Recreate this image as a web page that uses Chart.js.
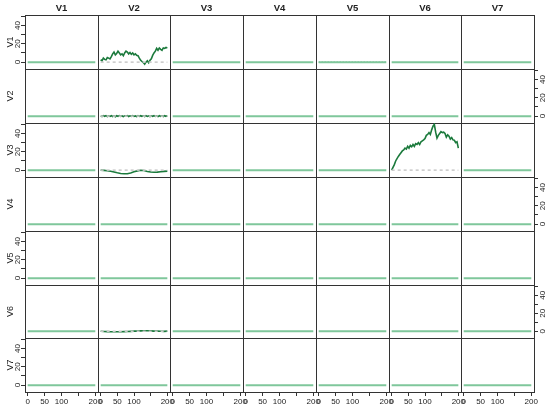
<!DOCTYPE html>
<html>
<head>
<meta charset="utf-8">
<script src="https://cdn.jsdelivr.net/npm/chart.js@4"></script>
<style>
  html, body { margin: 0; padding: 0; background: #fff; }
  #wrap { position: relative; width: 550px; height: 407px; overflow: hidden; }
  #wrap canvas { position: absolute; }
</style>
</head>
<body>
<div id="wrap"></div>
<script>
// ---- data ----
const names = ['V1', 'V2', 'V3', 'V4', 'V5', 'V6', 'V7'];
const xTicks = [0, 50, 100, 150, 200];
const xLabels = ['0', '50', '100', '', '200'];
const yTicks = [0, 10, 20, 30, 40, 50];
const yLabels = ['0', '', '20', '', '40', ''];

// flat responses (most panels)
const flatLags = [0, 200];
const flatVals = [0, 0];

// step-4 lags for the noisy series
const lags4 = [0,4,8,12,16,20,24,28,32,36,40,44,48,52,56,60,64,68,72,76,80,84,88,92,96,100,
  104,108,112,116,120,124,128,132,136,140,144,148,152,156,160,164,168,172,176,180,184,188,192,196,200];
// step-10 lags for the smoother ones
const lags10 = [0,10,20,30,40,50,60,70,80,90,100,110,120,130,140,150,160,170,180,190,200];

// V1 response to V2
const v1v2 = [2.6,1.5,4.4,3,2.5,5,4.4,3.5,6,9,11,8,9.5,12,10,8,9,7,10,12,11,9,10.5,8.5,10,8,
  9,7.5,7,4.4,2,0.7,-0.5,-2.2,0,1.5,-0.7,2,3.7,7.4,10,12,15,13,15.5,14,13,15.5,15,16,15.5];
// V2 response to V2
const v2v2 = [0.3,-0.4,0.5,-0.2,0.6,-0.5,0.2,-0.3,0.5,-0.4,0.3,-0.6,0.4,-0.2,0.5,-0.3,0.2,-0.5,0.4,-0.1,0.5,-0.4,0.3,-0.2,0.6,-0.3,
  0.2,-0.5,0.4,-0.3,0.5,-0.2,0.3,-0.4,0.5,-0.3,0.2,-0.4,0.4,-0.2,0.5,-0.3,0.3,-0.5,0.4,-0.2,0.3,-0.4,0.5,-0.2,0.3];
// V3 response to V2
const v3v2 = [0,-0.3,-0.7,-1.3,-2,-2.9,-3.6,-4,-3.9,-3.1,-1.8,-0.8,-0.1,-0.4,-1.4,-2.1,-2.3,-2.2,-1.8,-1.4,-1.1];
// V3 response to V6
const v3v6 = [0,3,6,10,12.6,15,17,19,21,22,24,23,26,24,27,25.5,28,26,29,28,30,28,31,32,33,34.5,
  38,39,41,39,44,48,50,41.5,35,38,40,42,41,41.5,40,36,38.5,37,34,35.5,33,32.6,30,31,24];
// V6 response to V2
const v6v2 = [0,-0.2,-0.4,-0.6,-0.6,-0.5,-0.6,-0.4,-0.3,-0.1,0.1,0.2,0.4,0.6,0.5,0.4,0.2,0.1,0.0,-0.1,0.1];

// which panels carry a non-flat response: "row,col" -> [lags, values]
const active = {
  '0,1': [lags4, v1v2],
  '1,1': [lags4, v2v2],
  '2,1': [lags10, v3v2],
  '2,5': [lags4, v3v6],
  '5,1': [lags10, v6v2]
};

const LIGHT = '#7fc79b';
const DARK = '#1b7a3c';
const AXIS = '#333333';
const FONT = "'Liberation Sans', Arial, sans-serif";

// ---- layout ----
const GRID_L = 24.7, GRID_T = 15, CELL_W = 72.8, CELL_H = 53.9;
const M = 25; // margin around each plot box inside its canvas
const wrap = document.getElementById('wrap');

function pts(xs, ys) {
  return xs.map((x, i) => ({ x: x, y: ys[i] }));
}

for (let r = 0; r < 7; r++) {
  for (let c = 0; c < 7; c++) {
    const x0 = Math.round(GRID_L + c * CELL_W), x1 = Math.round(GRID_L + (c + 1) * CELL_W);
    const y0 = Math.round(GRID_T + r * CELL_H), y1 = Math.round(GRID_T + (r + 1) * CELL_H);
    const cv = document.createElement('canvas');
    const w = x1 - x0 + 2 * M, h = y1 - y0 + 2 * M;
    cv.width = w; cv.height = h;
    cv.style.left = (x0 - M) + 'px';
    cv.style.top = (y0 - M) + 'px';
    cv.style.width = w + 'px';
    cv.style.height = h + 'px';
    wrap.appendChild(cv);

    const bottomRow = r === 6;
    const leftTicks = c === 0 && r % 2 === 0;
    const rightTicks = c === 6 && r % 2 === 1;

    const datasets = [];
    const key = r + ',' + c;
    if (active[key]) {
      datasets.push({ data: pts(flatLags, flatVals), borderColor: '#c8c8c8', borderWidth: 1.5, borderDash: [3, 3] });
      datasets.push({ data: pts(active[key][0], active[key][1]), borderColor: DARK, borderWidth: 1.6 });
    } else {
      datasets.push({ data: pts(flatLags, flatVals), borderColor: LIGHT, borderWidth: 2 });
      if (key === '0,4') {
        datasets.push({ data: pts(flatLags, flatVals), borderColor: DARK, borderWidth: 1, borderDash: [1, 2] });
      }
    }

    const yScale = (pos, show) => ({
      type: 'linear', position: pos, min: -7.5, max: 51.5,
      afterFit: s => { s.width = M; },
      afterBuildTicks: s => { s.ticks = yTicks.map(v => ({ value: v })); },
      grid: { display: show, drawOnChartArea: false, drawTicks: true, tickLength: 4, color: AXIS },
      border: { display: true, color: AXIS, width: 1 },
      ticks: {
        display: show, autoSkip: false, minRotation: 90, maxRotation: 90, crossAlign: 'center',
        padding: pos === 'left' ? -1.7 : 0, color: '#222', font: { family: FONT, size: 8 },
        callback: (v, i) => yLabels[i]
      },
      title: {
        display: pos === 'left' && c === 0, text: names[r], color: '#222',
        font: { family: FONT, size: 9 }, padding: { top: 5, bottom: 0 }
      }
    });

    new Chart(cv, {
      type: 'line',
      data: { datasets: datasets },
      options: {
        responsive: false,
        animation: false,
        events: [],
        layout: { padding: 0 },
        elements: { point: { radius: 0 }, line: { tension: 0 } },
        plugins: { legend: { display: false }, tooltip: { enabled: false } },
        scales: {
          x: {
            type: 'linear', position: 'bottom', min: -8, max: 208,
            afterFit: s => { s.height = M; },
            afterBuildTicks: s => { s.ticks = xTicks.map(v => ({ value: v })); },
            grid: { display: bottomRow, drawOnChartArea: false, drawTicks: true, tickLength: 4, color: AXIS },
            border: { display: true, color: AXIS, width: 1 },
            ticks: {
              display: bottomRow, autoSkip: false, maxRotation: 0, padding: 1,
              color: '#222', font: { family: FONT, size: 8 },
              callback: (v, i) => xLabels[i]
            }
          },
          xTop: {
            type: 'linear', position: 'top', min: -8, max: 208,
            afterFit: s => { s.height = M; },
            grid: { display: false },
            border: { display: true, color: AXIS, width: 1 },
            ticks: { display: false },
            title: {
              display: r === 0, text: names[c], color: '#222',
              font: { family: FONT, size: 9.5, weight: 'bold' }, padding: { top: 13, bottom: 0 }
            }
          },
          y: yScale('left', leftTicks),
          y2: yScale('right', rightTicks)
        }
      }
    });
  }
}
</script>
</body>
</html>
